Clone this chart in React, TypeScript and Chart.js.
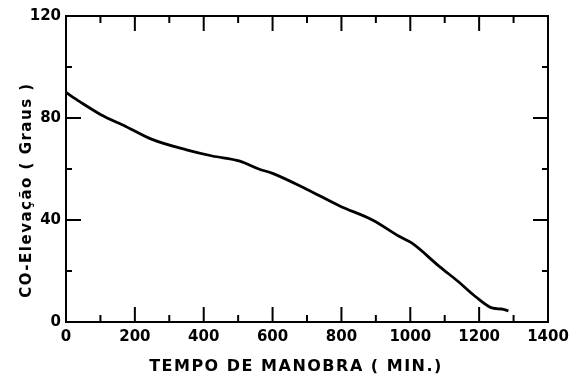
import React, { useEffect, useRef } from "react";
import { Chart, registerables } from "chart.js";

Chart.register(...registerables);

const TIME_MIN = [0, 40, 100, 175, 250, 350, 425, 505, 560, 600, 700, 795, 890, 970, 1005, 1085, 1140, 1190, 1240, 1265, 1285];
const ELEVATION = [90, 86.4, 81.4, 76.6, 71.6, 67.5, 65.1, 63.1, 60, 58.3, 52, 45.5, 40, 33.4, 30.9, 21.7, 15.8, 9.9, 5.4, 5.1, 4.4];

const X_MAJOR_TICKS = [0, 200, 400, 600, 800, 1000, 1200, 1400];
const X_MINOR_TICKS = [100, 300, 500, 700, 900, 1100, 1300];
const Y_MAJOR_TICKS = [0, 40, 80, 120];
const Y_MINOR_TICKS = [20, 60, 100];

const X_TITLE = "TEMPO DE MANOBRA ( MIN.)";
const Y_TITLE = "CO-Elevação ( Graus )";

const FONT = "'DejaVu Sans', sans-serif";

const framePlugin = {
  id: "frameTicks",
  afterDraw(chart: any) {
    const { ctx, chartArea, scales } = chart;
    const { left, right, top, bottom } = chartArea;
    const x = scales.x;
    const y = scales.y;
    ctx.save();
    ctx.strokeStyle = "#000";
    ctx.lineWidth = 2;
    ctx.lineCap = "butt";
    ctx.strokeRect(left, top, right - left, bottom - top);
    const drawX = (v: number, len: number) => {
      const px = x.getPixelForValue(v);
      ctx.beginPath();
      ctx.moveTo(px, bottom);
      ctx.lineTo(px, bottom - len);
      ctx.moveTo(px, top);
      ctx.lineTo(px, top + len);
      ctx.stroke();
    };
    const drawY = (v: number, len: number) => {
      const py = y.getPixelForValue(v);
      ctx.beginPath();
      ctx.moveTo(left, py);
      ctx.lineTo(left + len, py);
      ctx.moveTo(right, py);
      ctx.lineTo(right - len, py);
      ctx.stroke();
    };
    X_MAJOR_TICKS.forEach((v) => drawX(v, 15));
    X_MINOR_TICKS.forEach((v) => drawX(v, 7));
    Y_MAJOR_TICKS.forEach((v) => drawY(v, 15));
    Y_MINOR_TICKS.forEach((v) => drawY(v, 6));

    ctx.fillStyle = "#000";
    (ctx as any).letterSpacing = "1.5px";
    ctx.font = `bold 16px ${FONT}`;
    ctx.textAlign = "center";
    ctx.textBaseline = "middle";
    ctx.fillText(X_TITLE, 296, 367);

    ctx.font = `bold 15px ${FONT}`;
    ctx.translate(27, 190);
    ctx.rotate(-Math.PI / 2);
    ctx.fillText(Y_TITLE, 0, 0);
    ctx.restore();
  },
};

export default function App() {
  const canvasRef = useRef<HTMLCanvasElement | null>(null);

  useEffect(() => {
    const canvas = canvasRef.current;
    if (!canvas) return;
    const chart = new Chart(canvas, {
      type: "scatter",
      data: {
        datasets: [
          {
            data: TIME_MIN.map((t, i) => ({ x: t, y: ELEVATION[i] })),
            showLine: true,
            borderColor: "#000",
            borderWidth: 2.8,
            pointRadius: 0,
            cubicInterpolationMode: "monotone",
          } as any,
        ],
      },
      options: {
        responsive: false,
        animation: false,
        layout: { padding: { top: 16, right: 30, left: 0, bottom: 0 } },
        plugins: { legend: { display: false }, tooltip: { enabled: false } },
        scales: {
          x: {
            type: "linear",
            min: 0,
            max: 1400,
            afterBuildTicks: (s: any) => {
              s.ticks = X_MAJOR_TICKS.map((v) => ({ value: v }));
            },
            afterFit: (s: any) => {
              s.height = 60;
            },
            grid: { display: false, drawTicks: false },
            border: { display: false },
            ticks: {
              color: "#000",
              font: { family: FONT, size: 15, weight: "bold" },
              padding: 6,
              maxRotation: 0,
              autoSkip: false,
              callback: (v: any) => String(v),
            },
          },
          y: {
            type: "linear",
            min: 0,
            max: 120,
            afterBuildTicks: (s: any) => {
              s.ticks = Y_MAJOR_TICKS.map((v) => ({ value: v }));
            },
            afterFit: (s: any) => {
              s.width = 66;
            },
            grid: { display: false, drawTicks: false },
            border: { display: false },
            ticks: {
              color: "#000",
              font: { family: FONT, size: 15, weight: "bold" },
              padding: 5,
              autoSkip: false,
              callback: (v: any) => String(v),
            },
          },
        },
      },
      plugins: [framePlugin],
    });
    return () => chart.destroy();
  }, []);

  return (
    <div style={{ position: "absolute", left: 0, top: 0, width: 578, height: 382, background: "#fff" }}>
      <canvas ref={canvasRef} width={578} height={382} style={{ display: "block" }} />
    </div>
  );
}
